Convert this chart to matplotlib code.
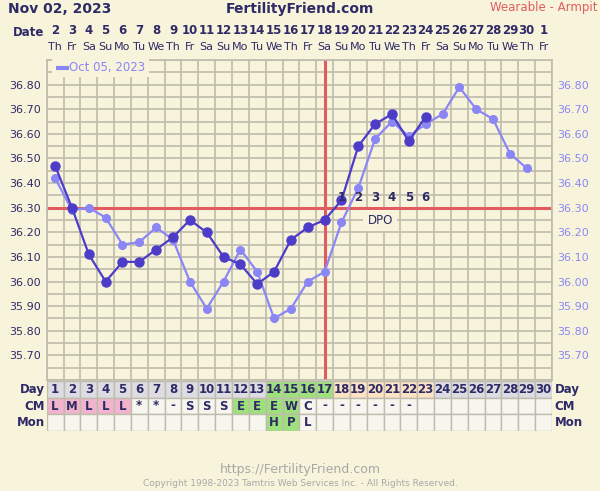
import matplotlib
matplotlib.use("Agg")
import matplotlib.pyplot as plt
from matplotlib.patches import Rectangle
import matplotlib.transforms as mtrans

# chart data
dates = [2, 3, 4, 5, 6, 7, 8, 9, 10, 11, 12, 13, 14, 15, 16, 17, 18, 19, 20,
         21, 22, 23, 24, 25, 26, 27, 28, 29, 30, 1]
weekdays = (['Th', 'Fr', 'Sa', 'Su', 'Mo', 'Tu', 'We'] * 5)[:30]
cycle_days = list(range(1, 31))

current_temps = [36.47, 36.30, 36.11, 36.00, 36.08, 36.08, 36.13, 36.18, 36.25,
                 36.20, 36.10, 36.07, 35.99, 36.04, 36.17, 36.22, 36.25, 36.33,
                 36.55, 36.64, 36.68, 36.57, 36.67]
oct_temps = [36.42, 36.29, 36.30, 36.26, 36.15, 36.16, 36.22, 36.17, 36.00,
             35.89, 36.00, 36.13, 36.04, 35.85, 35.89, 36.00, 36.04, 36.24,
             36.38, 36.58, 36.65, 36.59, 36.64, 36.68, 36.79, 36.70, 36.66,
             36.52, 36.46]

cm_obs = ['L', 'M', 'L', 'L', 'L', '*', '*', '-', 'S', 'S', 'S', 'E', 'E', 'E',
          'W', 'C', '-', '-', '-', '-', '-', '-']
mon_obs = {14: 'H', 15: 'P', 16: 'L'}
fertile_days = [14, 15, 16, 17]
luteal_days = [18, 19, 20, 21, 22, 23]
dpo_labels = ['1', '2', '3', '4', '5', '6']
coverline = 36.30
ovulation_day = 17

# colours
bg = '#f8f4dc'
navy = '#2e2a66'
dark = '#4c3cc8'
light = '#8a86f6'
red = '#e05c60'
grid_c = '#bfbbad'
green = '#9ee07c'
pink = '#f2b4cc'
peach = '#fde2c4'
gray_cell = '#dcdce2'
plain_cell = '#f6f6ee'

W, H = 600, 491
fig = plt.figure(figsize=(6, 4.91), dpi=100, facecolor=bg)

x0, x1 = 46.7, 552.0
ytop, ybot = 60, 380
ax = fig.add_axes([x0 / W, 1 - ybot / H, (x1 - x0) / W, (ybot - ytop) / H])
ax.set_facecolor(bg)
ax.set_xlim(0.5, 30.5)
ax.set_ylim(35.60, 36.90)

# grid
for i in range(31):
    ax.axvline(0.5 + i, color=grid_c, lw=1.2, zorder=1)
for k in range(27):
    ax.axhline(35.60 + 0.05 * k, color=grid_c, lw=1.2, zorder=1)
for s in ax.spines.values():
    s.set_color(grid_c)
    s.set_linewidth(1.2)

ticks = [35.70 + 0.1 * k for k in range(12)]
ax.set_yticks(ticks)
ax.set_yticklabels(['%.2f' % t for t in ticks], color=navy, fontsize=8)
ax.tick_params(axis='y', length=0, pad=4)
ax.set_xticks([])

# right side labels in light colour
ax2 = ax.twinx()
ax2.set_ylim(ax.get_ylim())
ax2.set_yticks(ticks)
ax2.set_yticklabels(['%.2f' % t for t in ticks], color=light, fontsize=8)
ax2.tick_params(axis='y', length=0, pad=4)
for s in ax2.spines.values():
    s.set_visible(False)

# coverline and ovulation line
ax.axhline(coverline, color=red, lw=2.2, zorder=2)
ax.axvline(ovulation_day, color=red, lw=2.2, zorder=2)

# temperatures
ax.plot(range(1, len(oct_temps) + 1), oct_temps, color=light, lw=1.6,
        marker='o', ms=5.5, zorder=3)
ax.plot(range(1, len(current_temps) + 1), current_temps, color=dark, lw=1.6,
        marker='o', ms=6.5, zorder=4)

# DPO labels
for d, lab in zip(luteal_days, dpo_labels):
    ax.text(d, 36.34, lab, ha='center', va='center', fontsize=8.5,
            fontweight='bold', color=navy, zorder=5)
ax.text(20.3, 36.247, 'DPO', ha='center', va='center', fontsize=8.5,
        color=navy, zorder=5,
        bbox=dict(boxstyle='square,pad=0.35', fc=bg, ec='none'))

# legend
ax.text(1.0, 36.87, '      ', ha='left', va='center', fontsize=8.5, zorder=5,
        bbox=dict(boxstyle='square,pad=0.3', fc=bg, ec='none'))
ax.text(1.85, 36.87, 'Oct 05, 2023', ha='left', va='center', fontsize=8.5,
        color=light, zorder=6,
        bbox=dict(boxstyle='square,pad=0.3', fc=bg, ec='none'))
ax.plot([1.05, 1.8], [36.867, 36.867], color=light, lw=3, zorder=7,
        solid_capstyle='butt')

# header rows
tr = mtrans.blended_transform_factory(ax.transData, fig.transFigure)
for i, (d, wd) in enumerate(zip(dates, weekdays)):
    fig.text(i + 1, 1 - 30 / H, str(d), transform=tr, ha='center', va='center',
             fontsize=8.5, fontweight='bold', color=navy)
    fig.text(i + 1, 1 - 47 / H, wd, transform=tr, ha='center', va='center',
             fontsize=8, color=navy)
fig.text(44 / W, 1 - 33 / H, 'Date', ha='right', va='center', fontsize=8.5,
         fontweight='bold', color=navy)

fig.text(8 / W, 1 - 9 / H, 'Nov 02, 2023', ha='left', va='center',
         fontsize=10, fontweight='bold', color=navy)
fig.text(300 / W, 1 - 9 / H, 'FertilityFriend.com', ha='center', va='center',
         fontsize=10, fontweight='bold', color=navy)
fig.text(597 / W, 1 - 8 / H, 'Wearable - Armpit', ha='right', va='center',
         fontsize=8.5, color=red)

# bottom table
tax = fig.add_axes([x0 / W, 1 - 431 / H, (x1 - x0) / W, 50 / H])
tax.set_xlim(0.5, 30.5)
tax.set_ylim(0, 3)
tax.axis('off')
for d in cycle_days:
    if d in fertile_days:
        c = green
    elif d in luteal_days:
        c = peach
    else:
        c = gray_cell
    tax.add_patch(Rectangle((d - 0.5, 2), 1, 1, fc=c, ec=grid_c, lw=1))
    tax.text(d, 2.5, str(d), ha='center', va='center', fontsize=8.5,
             fontweight='bold', color=navy)
    cm = cm_obs[d - 1] if d <= len(cm_obs) else ''
    if cm in ('L', 'M'):
        c = pink
    elif cm in ('E', 'W'):
        c = green
    else:
        c = plain_cell
    tax.add_patch(Rectangle((d - 0.5, 1), 1, 1, fc=c, ec=grid_c, lw=1))
    tax.text(d, 1.5, cm, ha='center', va='center', fontsize=8.5,
             fontweight='bold', color=navy)
    mon = mon_obs.get(d, '')
    c = green if mon in ('H', 'P') else plain_cell
    tax.add_patch(Rectangle((d - 0.5, 0), 1, 1, fc=c, ec=grid_c, lw=1))
    tax.text(d, 0.5, mon, ha='center', va='center', fontsize=8.5,
             fontweight='bold', color=navy)

for yy, lab in zip([2.5, 1.5, 0.5], ['Day', 'CM', 'Mon']):
    tax.text(0.4, yy, lab, ha='right', va='center', fontsize=8.5,
             fontweight='bold', color=navy)
    tax.text(30.65, yy, lab, ha='left', va='center', fontsize=8.5,
             fontweight='bold', color=navy)

fig.text(300 / W, 1 - 470 / H, 'https://FertilityFriend.com', ha='center',
         va='center', fontsize=9, color='#a8a8a8')
fig.text(300 / W, 1 - 483 / H,
         'Copyright 1998-2023 Tamtris Web Services Inc. - All Rights Reserved.',
         ha='center', va='center', fontsize=6.5, color='#a8a8a8')

fig.savefig('out.png', dpi=100, facecolor=bg)
